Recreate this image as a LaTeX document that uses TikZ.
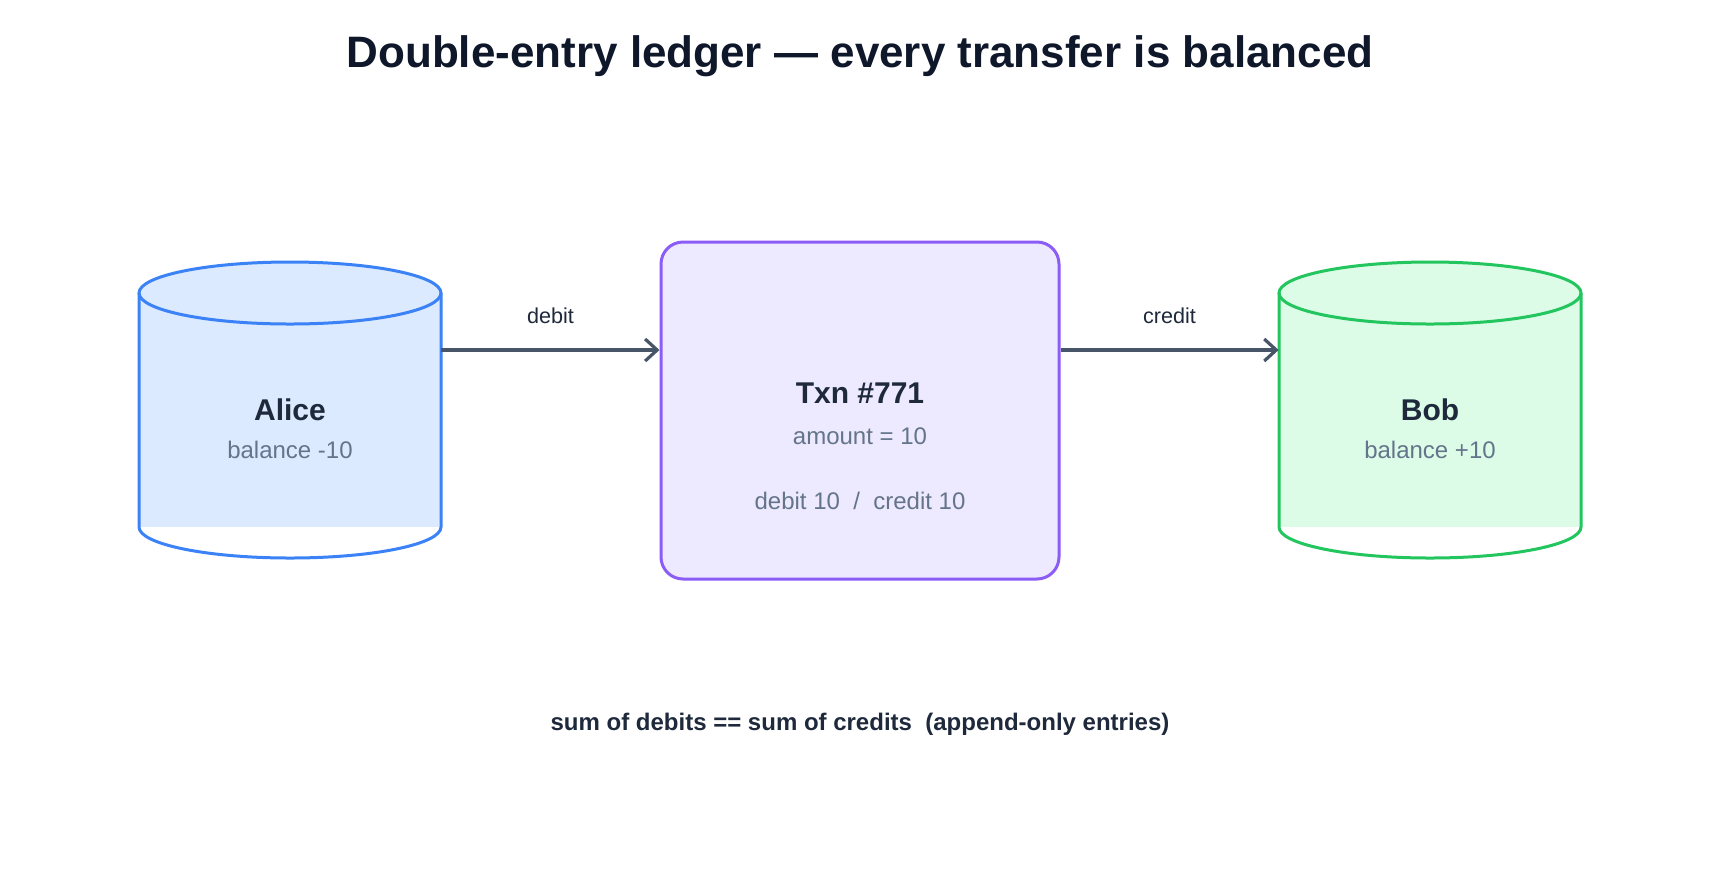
\documentclass[tikz,border=0pt]{standalone}
\usepackage{fontspec}
\setmainfont{Liberation Sans}
\usetikzlibrary{arrows.meta}
\definecolor{ink}{HTML}{0F172A}
\definecolor{txtdark}{HTML}{1E293B}
\definecolor{txtgrey}{HTML}{64748B}
\definecolor{flowcol}{HTML}{475569}
\definecolor{aliceline}{HTML}{3B82F6}
\definecolor{alicefill}{HTML}{DBEAFE}
\definecolor{txnline}{HTML}{8B5CF6}
\definecolor{txnfill}{HTML}{EDE9FE}
\definecolor{bobline}{HTML}{22C55E}
\definecolor{bobfill}{HTML}{DCFCE7}
\tikzset{
  acct/.style={font=\fontsize{15}{17}\selectfont\bfseries, text=txtdark},
  detail/.style={font=\fontsize{12}{14}\selectfont, text=txtgrey},
  flow/.style={->, line width=1.6pt, draw=flowcol},
  flowlabel/.style={font=\fontsize{10.8}{13}\selectfont, text=txtdark}
}
\begin{document}
\begin{tikzpicture}[x=0.5pt, y=-0.5pt, >={Straight Barb[length=6pt,width=11pt]}]
\useasboundingbox (0,0) rectangle (1720,880);
\node (title) at (860,56) [font=\fontsize{22}{26}\selectfont\bfseries, text=ink]
  {Double-entry ledger — every transfer is balanced};
% Alice
\fill [alicefill] (139,293) rectangle (441,527);
\filldraw [fill=alicefill, draw=aliceline, line width=1.5pt]
  (290,293) ellipse [x radius=151, y radius=31];
\draw [aliceline, line width=1.5pt] (139,293) -- (139,527)
  arc [start angle=180, end angle=0, x radius=151, y radius=31] -- (441,293);
\node (alice) at (290,410) [minimum width=151pt, minimum height=117pt] {};
\node (alicename) at (290,410) [acct] {Alice};
\node (alicebal) at (290,450) [detail] {balance -10};
% Txn
\node (txn) at (860,410.5) [draw=txnline, fill=txnfill, line width=1.5pt,
  rounded corners=11pt, minimum width=199pt, minimum height=168.5pt] {};
\node (txnname) at (860,393) [acct] {Txn \#771};
\node (txnamt) at (860,436) [detail] {amount = 10};
\node (txnsplit) at (860,501) [detail] {debit 10 \ / \ credit 10};
% Bob
\fill [bobfill] (1279,293) rectangle (1581,527);
\filldraw [fill=bobfill, draw=bobline, line width=1.5pt]
  (1430,293) ellipse [x radius=151, y radius=31];
\draw [bobline, line width=1.5pt] (1279,293) -- (1279,527)
  arc [start angle=180, end angle=0, x radius=151, y radius=31] -- (1581,293);
\node (bob) at (1430,410) [minimum width=151pt, minimum height=117pt] {};
\node (bobname) at (1430,410) [acct] {Bob};
\node (bobbal) at (1430,450) [detail] {balance +10};
% flows
\coordinate (flowy) at (0,350);
\draw [flow] (alice.east |- flowy) -- node [flowlabel, yshift=17pt] {debit} (txn.west |- flowy);
\draw [flow] (txn.east |- flowy) -- node [flowlabel, yshift=17pt] {credit} (bob.west |- flowy);
\node (footer) at (860,724) [font=\fontsize{12}{14}\selectfont\bfseries, text=txtdark]
  {sum of debits == sum of credits \ (append-only entries)};
\end{tikzpicture}
\end{document}
